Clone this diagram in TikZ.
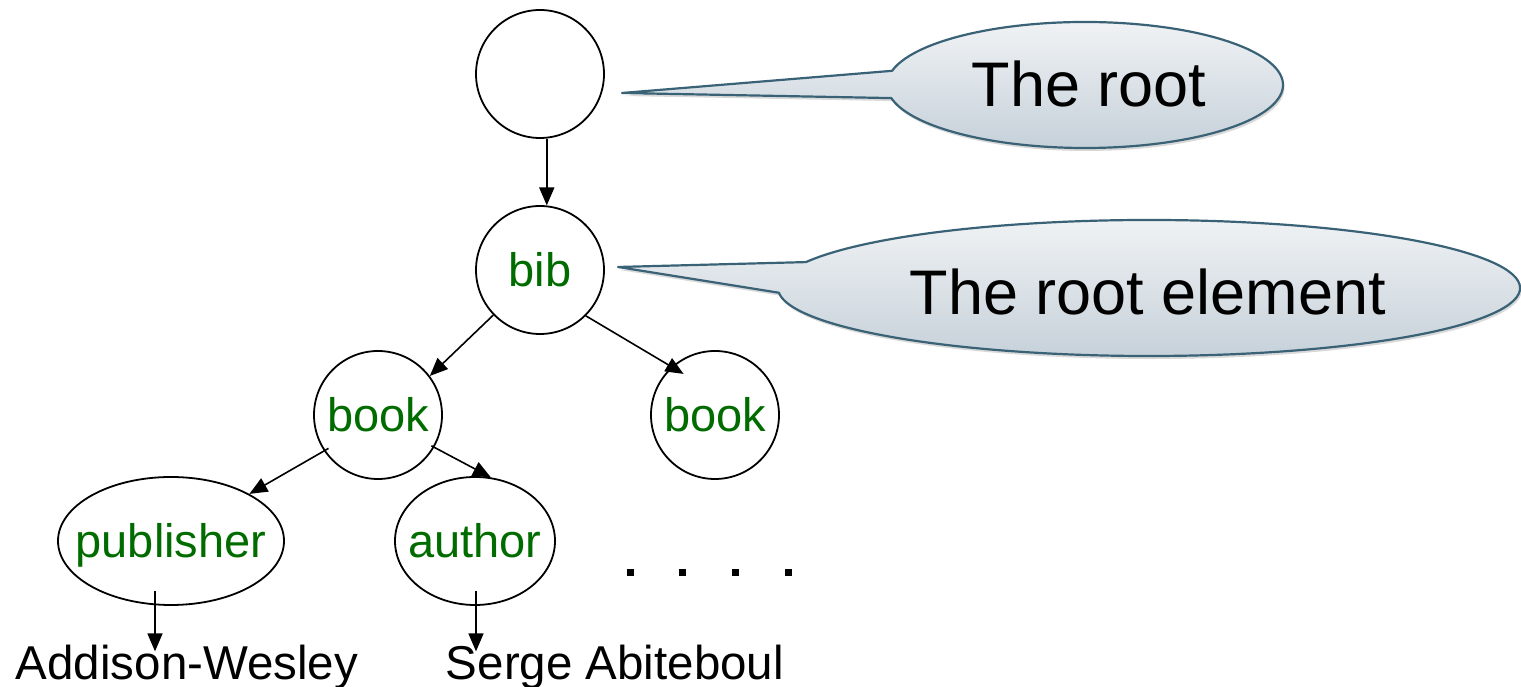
\documentclass[tikz,border=0pt]{standalone}
\usepackage{fontspec}
\setmainfont{Liberation Sans}
\usetikzlibrary{arrows.meta,shapes.geometric,shadows,calc}

\definecolor{tagGreen}{RGB}{0,108,0}
\definecolor{calloutEdge}{RGB}{58,98,118}
\definecolor{calloutTop}{RGB}{242,244,246}
\definecolor{calloutBottom}{RGB}{196,207,216}

\tikzset{
  treenode/.style={draw=black, line width=1.8pt, inner sep=0pt,
    text=tagGreen, font=\fontsize{47}{52}\selectfont,
    text height=34pt, text depth=0pt},
  circnode/.style={treenode, circle, minimum size=128pt},
  ovalnode/.style={treenode, ellipse, minimum height=128pt},
  leaftext/.style={inner sep=0pt, anchor=base, font=\fontsize{47.5}{52}\selectfont},
  edge/.style={line width=1.6pt, -{Triangle[length=18pt,width=15pt]}},
  callout/.style={draw=calloutEdge, line width=2.2pt, line join=round,
    top color=calloutTop, bottom color=calloutBottom,
    drop shadow={shadow xshift=1.5pt, shadow yshift=-3pt, opacity=0.25, fill=black!60}},
  callouttext/.style={inner sep=0pt, anchor=base, font=\fontsize{63}{70}\selectfont}
}

\begin{document}
\begin{tikzpicture}[x=1pt,y=1pt]
\useasboundingbox (0,0) rectangle (1521,687);

% speech bubbles
\coordinate (tipA) at (622,594);
\path[callout] (tipA) -- ($(1085,602)+(167:198 and 63)$)
  arc[start angle=167, end angle=-168, x radius=198, y radius=63] -- cycle;
\node[callouttext] (lblRoot) at (1089,580) {The root};

\coordinate (tipB) at (618,420);
\path[callout] (tipB) -- ($(1149,399)+(157.6:371 and 68)$)
  arc[start angle=157.6, end angle=-176, x radius=371, y radius=68] -- cycle;
\node[callouttext] (lblElem) at (1148,372) {The root element};

% tree nodes
\node[circnode] (root) at (540,613) {};
\node[circnode] (bib) at (540,417) {bib};
\node[circnode] (bookL) at (378,272) {book};
\node[circnode] (bookR) at (715,272) {book};
\node[ovalnode, minimum width=226pt] (publisher) at (171,146) {\makebox[0pt]{publisher}};
\node[ovalnode, minimum width=160pt] (author) at (475,146) {\makebox[0pt]{author}};

% text leaves
\node[leaftext] (aw) at (187,7) {Addison-Wesley};
\node[leaftext] (sa) at (615,7) {Serge Abiteboul};

% continuation dots
\foreach \x in {630,682,735,788}
  \fill (\x-3.5,110.5) rectangle (\x+3.5,117.5);

% edges
\draw[edge] (root.-84) -- (bib.84);
\draw[edge] (bib.224) -- (bookL.37);
\draw[edge, shorten >=-14pt] (bib.315) -- (bookR.132);
\draw[edge] ($(bookL.center)!0.92!(bookL.214)$) -- (publisher.31);
\draw[edge] ($(bookL.center)!0.95!(bookL.-30)$) -- (author.76);

\coordinate (pubFoot) at ([xshift=-16pt,yshift=15pt]publisher.south);
\coordinate (autFoot) at ([xshift=1pt,yshift=15pt]author.south);
\draw[edge] (pubFoot) -- ([yshift=-6pt]pubFoot |- aw.north);
\draw[edge] (autFoot) -- ([yshift=-6pt]autFoot |- sa.north);
\end{tikzpicture}
\end{document}
